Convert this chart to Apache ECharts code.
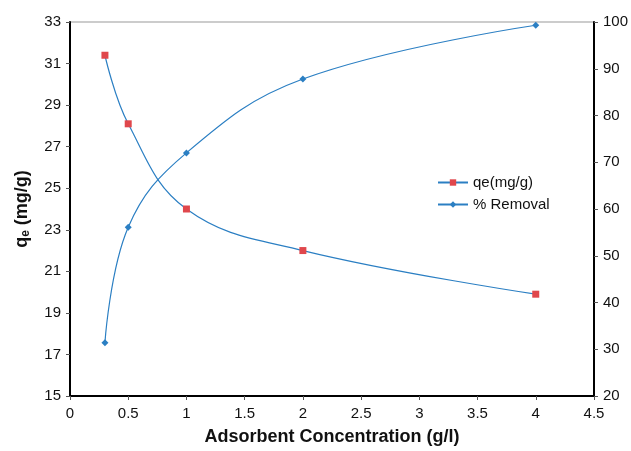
<!DOCTYPE html>
<html>
<head>
<meta charset="utf-8">
<script src="https://cdn.jsdelivr.net/npm/echarts@6/dist/echarts.min.js"></script>
<style>
  html, body { margin: 0; padding: 0; background: #fff; }
  #chart { width: 631px; height: 451px; }
</style>
</head>
<body>
<div id="chart"></div>
<script>
// values
const dose = [0.3, 0.5, 1, 2, 4];
const qe = [31.4, 28.1, 24.0, 22.0, 19.9];
const removal = [31.4, 56.1, 72.0, 87.8, 99.3];

const LINE = '#2b7fc3';
const FONT = '"Liberation Sans", Arial, sans-serif';

const chart = echarts.init(document.getElementById('chart'));

const axisText = { color: '#111', fontSize: 15, fontFamily: FONT };

chart.setOption({
    animation: false,
    textStyle: { fontFamily: FONT },
    grid: {
        left: 70, right: 37, top: 22, bottom: 55,
        show: true, borderColor: '#999', borderWidth: 1
    },
    legend: {
        left: 432, top: 170,
        orient: 'vertical',
        itemWidth: 30, itemHeight: 8, itemGap: 7,
        textStyle: { fontSize: 15, color: '#111', fontFamily: FONT },
        data: ['qe(mg/g)', '% Removal']
    },
    xAxis: {
        type: 'value', min: 0, max: 4.5, interval: 0.5,
        name: 'Adsorbent Concentration (g/l)',
        nameLocation: 'middle', nameGap: 32,
        nameTextStyle: { fontSize: 18, fontWeight: 'bold', color: '#111', fontFamily: FONT },
        axisLine: { lineStyle: { color: '#000', width: 2 } },
        axisTick: { length: 4, lineStyle: { color: '#555' } },
        axisLabel: Object.assign({ margin: 10 }, axisText),
        splitLine: { show: false }
    },
    yAxis: [{
        type: 'value', min: 15, max: 33, interval: 2,
        name: '{b|q}{s|e}{b| (mg/g)}',
        nameLocation: 'middle', nameGap: 38, nameRotate: 90,
        nameTextStyle: {
            rich: {
                b: { fontSize: 18, fontWeight: 'bold', color: '#111', fontFamily: FONT },
                s: { fontSize: 12, fontWeight: 'bold', color: '#111', fontFamily: FONT, verticalAlign: 'bottom', padding: [8, 0, 0, 0] }
            }
        },
        axisLine: { show: true, lineStyle: { color: '#000', width: 2 } },
        axisTick: { show: true, length: 4, lineStyle: { color: '#555' } },
        axisLabel: Object.assign({ margin: 9 }, axisText),
        splitLine: { show: false }
    }, {
        type: 'value', min: 20, max: 100, interval: 10,
        position: 'right',
        axisLine: { show: true, lineStyle: { color: '#000', width: 2 } },
        axisTick: { show: true, length: 4, lineStyle: { color: '#555' } },
        axisLabel: Object.assign({ margin: 9 }, axisText),
        splitLine: { show: false }
    }],
    series: [{
        name: 'qe(mg/g)',
        type: 'line',
        yAxisIndex: 0,
        smooth: 0.4,
        data: dose.map((d, i) => [d, qe[i]]),
        symbol: 'rect', symbolSize: 7,
        itemStyle: { color: '#e0474c' },
        lineStyle: { color: LINE, width: 1.2 }
    }, {
        name: '% Removal',
        type: 'line',
        yAxisIndex: 1,
        smooth: 0.4,
        data: dose.map((d, i) => [d, removal[i]]),
        symbol: 'diamond', symbolSize: 7,
        itemStyle: { color: LINE },
        lineStyle: { color: LINE, width: 1.2 }
    }]
});
</script>
</body>
</html>
